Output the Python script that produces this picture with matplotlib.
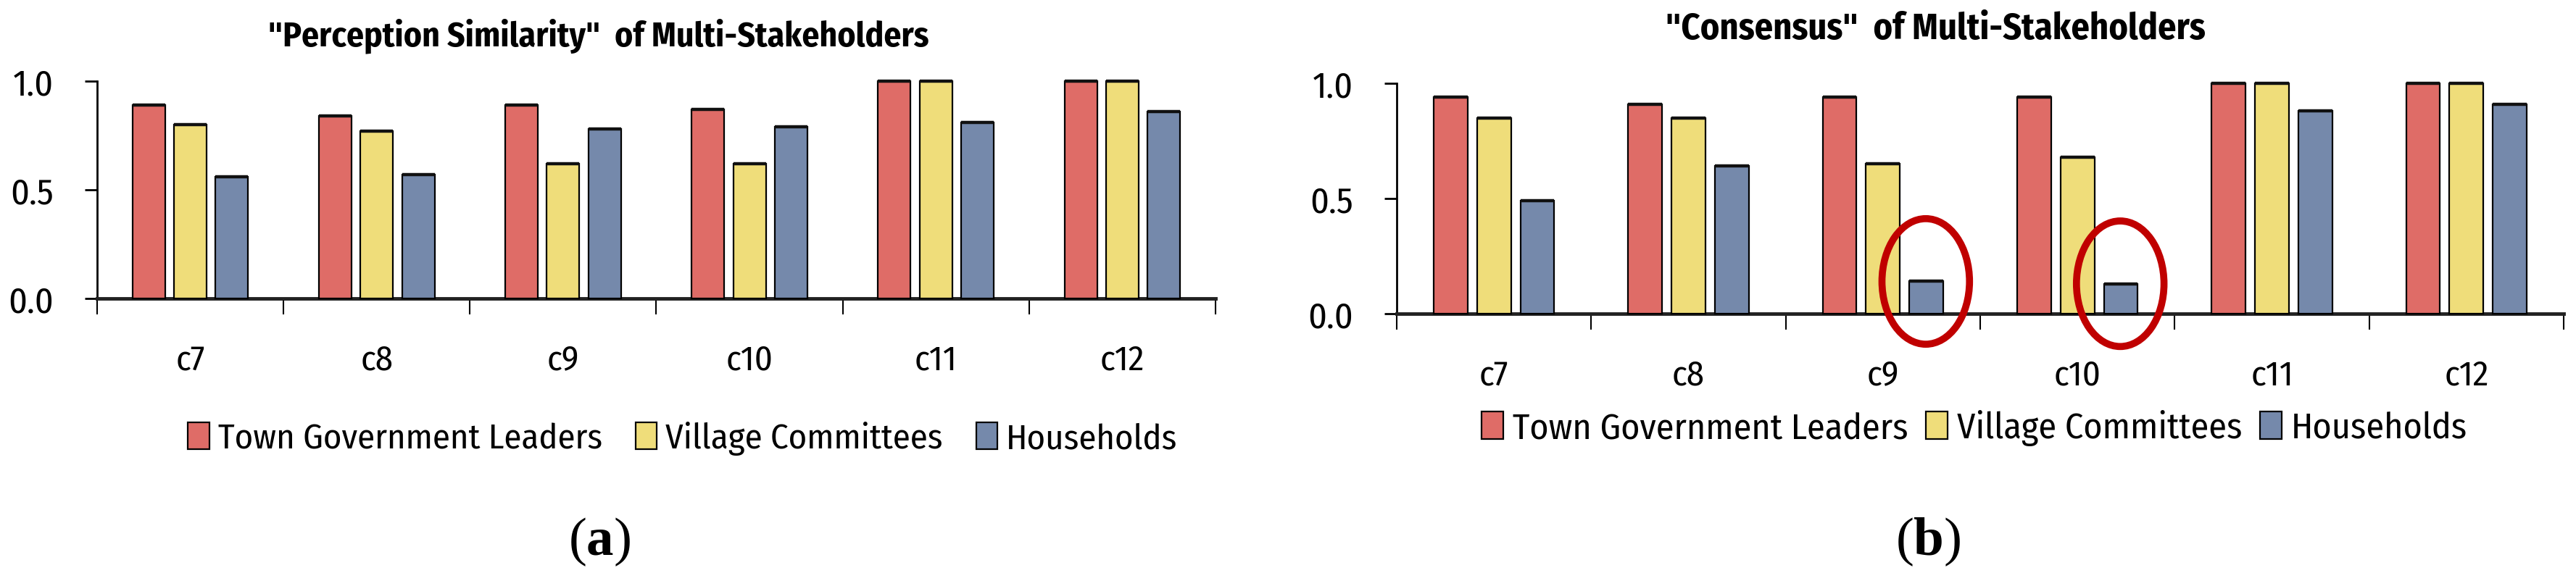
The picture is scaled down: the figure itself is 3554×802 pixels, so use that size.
import matplotlib
matplotlib.use("Agg")
import matplotlib.pyplot as plt
from matplotlib.patches import Ellipse
from matplotlib import font_manager as fm
import numpy as np

categories = ["c7", "c8", "c9", "c10", "c11", "c12"]
series_names = ["Town Government Leaders", "Village Committees", "Households"]

# (a) Perception Similarity
sim_town = [0.89, 0.84, 0.89, 0.87, 1.00, 1.00]
sim_village = [0.80, 0.77, 0.62, 0.62, 1.00, 1.00]
sim_house = [0.56, 0.57, 0.78, 0.79, 0.81, 0.86]

# (b) Consensus
con_town = [0.94, 0.91, 0.94, 0.94, 1.00, 1.00]
con_village = [0.85, 0.85, 0.65, 0.68, 1.00, 1.00]
con_house = [0.49, 0.64, 0.14, 0.13, 0.88, 0.91]

# highlighted (category index, value) for ellipses on panel (b)
highlight_cats = [2, 3]
highlight_vals = [0.14, 0.13]

colors = ["#DF6C67", "#EFDD7A", "#7589AB"]

available = {f.name for f in fm.fontManager.ttflist}
main_font = "DejaVu Sans"
for cand in ["Fira Sans Condensed", "Carlito", "Liberation Sans Narrow",
             "Pragati Narrow", "Roboto Condensed", "Open Sans"]:
    if cand in available:
        main_font = cand
        break
FONT = [main_font, "DejaVu Sans"]
plt.rcParams["font.family"] = FONT
plt.rcParams["mathtext.fontset"] = "custom"
plt.rcParams["mathtext.rm"] = "Liberation Serif"
plt.rcParams["mathtext.bf"] = "Liberation Serif:bold"

W, H = 3554, 803
fig = plt.figure(figsize=(W / 100, H / 100), dpi=100)


def px_ax(x0, x1, ytop, ybot):
    return [x0 / W, 1 - ybot / H, (x1 - x0) / W, (ybot - ytop) / H]


def draw_panel(ax, values):
    x = np.arange(len(categories))
    slot = 0.223
    width = 0.175
    handles = []
    for j, (vals, c, name) in enumerate(zip(values, colors, series_names)):
        pos = x + (j - 1) * slot
        b = ax.bar(pos, vals, width, color=c, edgecolor="black",
                   linewidth=1.6, label=name, clip_on=False, zorder=3)
        ax.hlines(vals, pos - width / 2, pos + width / 2, colors="#111111",
                  linewidth=3.2, zorder=4, clip_on=False)
        handles.append(b)
    ax.set_xlim(-0.5, len(categories) - 0.5)
    ax.set_ylim(0, 1.0)
    for s in ["top", "right"]:
        ax.spines[s].set_visible(False)
    ax.spines["left"].set_linewidth(2.0)
    ax.spines["bottom"].set_linewidth(3.5)
    ax.spines["bottom"].set_color("#222222")
    ax.set_yticks([0.0, 0.5, 1.0])
    ax.set_yticklabels(["0.0", "0.5", "1.0"])
    ax.tick_params(axis="y", direction="out", length=12, width=2, pad=31,
                   labelsize=36, colors="black")
    ax.set_xticks(np.arange(len(categories) + 1) - 0.5)
    ax.set_xticklabels([])
    ax.tick_params(axis="x", which="major", direction="out", length=16, width=1.5)
    ax.set_xticks(x, minor=True)
    ax.set_xticklabels(categories, minor=True)
    ax.tick_params(axis="x", which="minor", length=0, pad=44, labelsize=35)
    return handles


ax1 = fig.add_axes(px_ax(134, 1677, 113, 413))
h1 = draw_panel(ax1, [sim_town, sim_village, sim_house])

ax2 = fig.add_axes(px_ax(1927, 3537, 116, 434))
h2 = draw_panel(ax2, [con_town, con_village, con_house])

for ci, v in zip(highlight_cats, highlight_vals):
    e = Ellipse((ci + 0.22, v - 0.0), width=0.45, height=0.545, fill=False,
                edgecolor="#C00000", linewidth=7, zorder=5, clip_on=False)
    ax2.add_patch(e)

t1 = fig.text(826 / W, 1 - 50 / H, '"Perception Similarity"  of Multi-Stakeholders',
              ha="center", va="center", fontsize=34, fontweight="bold")
t2 = fig.text(2670 / W, 1 - 41 / H, '"Consensus"  of Multi-Stakeholders',
              ha="center", va="center", fontsize=34, fontweight="bold")

fig.legend(handles=h1, labels=series_names, loc="center",
           bbox_to_anchor=(942 / W, 1 - 606 / H), ncol=3, frameon=False,
           fontsize=35, handlelength=0.6, handleheight=0.8, handletextpad=0.25,
           columnspacing=0.95, borderpad=0)
fig.legend(handles=h2, labels=series_names, loc="center",
           bbox_to_anchor=(2724 / W, 1 - 591 / H), ncol=3, frameon=False,
           fontsize=36, handlelength=0.6, handleheight=0.8, handletextpad=0.25,
           columnspacing=0.5, borderpad=0)

fig.text(827 / W, 1 - 748 / H, r"$(\mathbf{a})$", ha="center", va="center",
         fontsize=54)
fig.text(2660 / W, 1 - 748 / H, r"$(\mathbf{b})$", ha="center", va="center",
         fontsize=54)

# fit title widths to the reference extents
fig.canvas.draw()
r = fig.canvas.get_renderer()
for t, target in [(t1, 912), (t2, 745)]:
    wpx = t.get_window_extent(renderer=r).width
    t.set_fontsize(t.get_fontsize() * target / wpx)

fig.savefig("out.png", dpi=100, facecolor="white")
